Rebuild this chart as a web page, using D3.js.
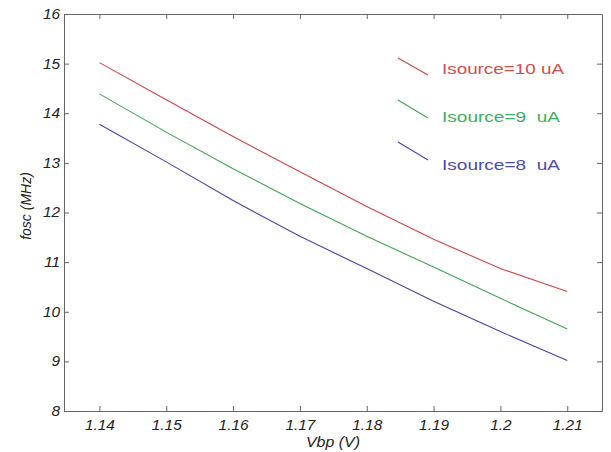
<!DOCTYPE html>
<html>
<head>
<meta charset="utf-8">
<script src="https://cdn.jsdelivr.net/npm/d3@7"></script>
<style>
  body { margin: 0; background: #fff; }
  text { font-family: "Liberation Sans", Arial, sans-serif; }
</style>
</head>
<body>
<svg id="chart" width="611" height="452"></svg>
<script>
// Vbp (V) values
const vbp = [1.14, 1.15, 1.16, 1.17, 1.18, 1.19, 1.20, 1.21];
// fosc (MHz) for each source current
const fosc10 = [15.02, 14.27, 13.53, 12.82, 12.12, 11.46, 10.87, 10.41];
const fosc9  = [14.39, 13.62, 12.88, 12.18, 11.52, 10.90, 10.27, 9.65];
const fosc8  = [13.78, 13.02, 12.24, 11.52, 10.87, 10.21, 9.60, 9.02];

const seriesNames = ["Isource=10 uA", "Isource=9\u00a0\u00a0uA", "Isource=8\u00a0\u00a0uA"];
const xTicks = [1.14, 1.15, 1.16, 1.17, 1.18, 1.19, 1.2, 1.21];
const xTickLabels = ["1.14", "1.15", "1.16", "1.17", "1.18", "1.19", "1.2", "1.21"];
const yTicks = [8, 9, 10, 11, 12, 13, 14, 15, 16];

const lineColors = ["#cf4545", "#3fa552", "#4444a6"];
const textColors = ["#d24c4c", "#3fae5c", "#4a4ab0"];

const margin = { top: 14, right: 9, bottom: 41, left: 64 };
const width = 611 - margin.left - margin.right;
const height = 452 - margin.top - margin.bottom;

const svg = d3.select("#chart");
const g = svg.append("g").attr("transform", `translate(${margin.left},${margin.top})`);

const x = d3.scaleLinear().domain([1.1347, 1.2152]).range([0, width]);
const y = d3.scaleLinear().domain([8, 16]).range([height, 0]);

const axisColor = "#666";

function styleAxis(sel) {
    sel.select(".domain").attr("stroke", axisColor);
    sel.selectAll(".tick line").attr("stroke", axisColor);
    sel.selectAll(".tick text")
        .attr("fill", "#222")
        .style("font-size", "14px")
        .style("font-style", "italic");
}

// bottom axis with labels
const xAxis = g.append("g")
    .attr("transform", `translate(0,${height})`)
    .call(d3.axisBottom(x).tickValues(xTicks).tickSize(-5).tickSizeOuter(0).tickPadding(9)
        .tickFormat((d, i) => xTickLabels[i]));
styleAxis(xAxis);
xAxis.selectAll(".tick text").attr("transform", "scale(1.1,1)");

// top axis, ticks only
const xAxisTop = g.append("g")
    .call(d3.axisTop(x).tickValues(xTicks).tickSize(-5).tickSizeOuter(0).tickFormat(""));
styleAxis(xAxisTop);

// left axis with labels
const yAxis = g.append("g")
    .call(d3.axisLeft(y).tickValues(yTicks).tickSize(-5).tickSizeOuter(0).tickPadding(3.5)
        .tickFormat(d3.format("d")));
styleAxis(yAxis);
yAxis.selectAll(".tick text").attr("transform", "scale(1.1,1)");

// right axis, ticks only
const yAxisRight = g.append("g")
    .attr("transform", `translate(${width},0)`)
    .call(d3.axisRight(y).tickValues(yTicks).tickSize(-5).tickSizeOuter(0).tickFormat(""));
styleAxis(yAxisRight);

// curves
const line = d3.line().x((d, i) => x(vbp[i])).y(d => y(d));
[fosc10, fosc9, fosc8].forEach((s, i) => {
    g.append("path")
        .datum(s)
        .attr("fill", "none")
        .attr("stroke", lineColors[i])
        .attr("stroke-width", 1.1)
        .attr("d", line);
});

// legend
const legendRows = [
    { x1: 398, y1: 58, x2: 428, y2: 75, tx: 442, ty: 74, tl: 122 },
    { x1: 398, y1: 100, x2: 428, y2: 118, tx: 442, ty: 122, tl: 118 },
    { x1: 398, y1: 142, x2: 428, y2: 160, tx: 442, ty: 170, tl: 118 }
];
legendRows.forEach((r, i) => {
    svg.append("line")
        .attr("x1", r.x1).attr("y1", r.y1).attr("x2", r.x2).attr("y2", r.y2)
        .attr("stroke", lineColors[i]).attr("stroke-width", 1.1);
    svg.append("text")
        .attr("x", r.tx).attr("y", r.ty)
        .attr("fill", textColors[i])
        .attr("textLength", r.tl)
        .attr("lengthAdjust", "spacingAndGlyphs")
        .style("font-size", "15px")
        .text(seriesNames[i]);
});

// axis titles
svg.append("text")
    .attr("x", (margin.left + margin.left + width) / 2)
    .attr("y", 447)
    .attr("text-anchor", "middle")
    .attr("fill", "#222")
    .attr("textLength", 54)
    .attr("lengthAdjust", "spacingAndGlyphs")
    .style("font-size", "14px")
    .style("font-style", "italic")
    .text("Vbp (V)");

svg.append("text")
    .attr("transform", "translate(31,206) rotate(-90)")
    .attr("text-anchor", "middle")
    .attr("fill", "#222")
    .style("font-size", "14px")
    .style("font-style", "italic")
    .text("fosc (MHz)");
</script>
</body>
</html>
